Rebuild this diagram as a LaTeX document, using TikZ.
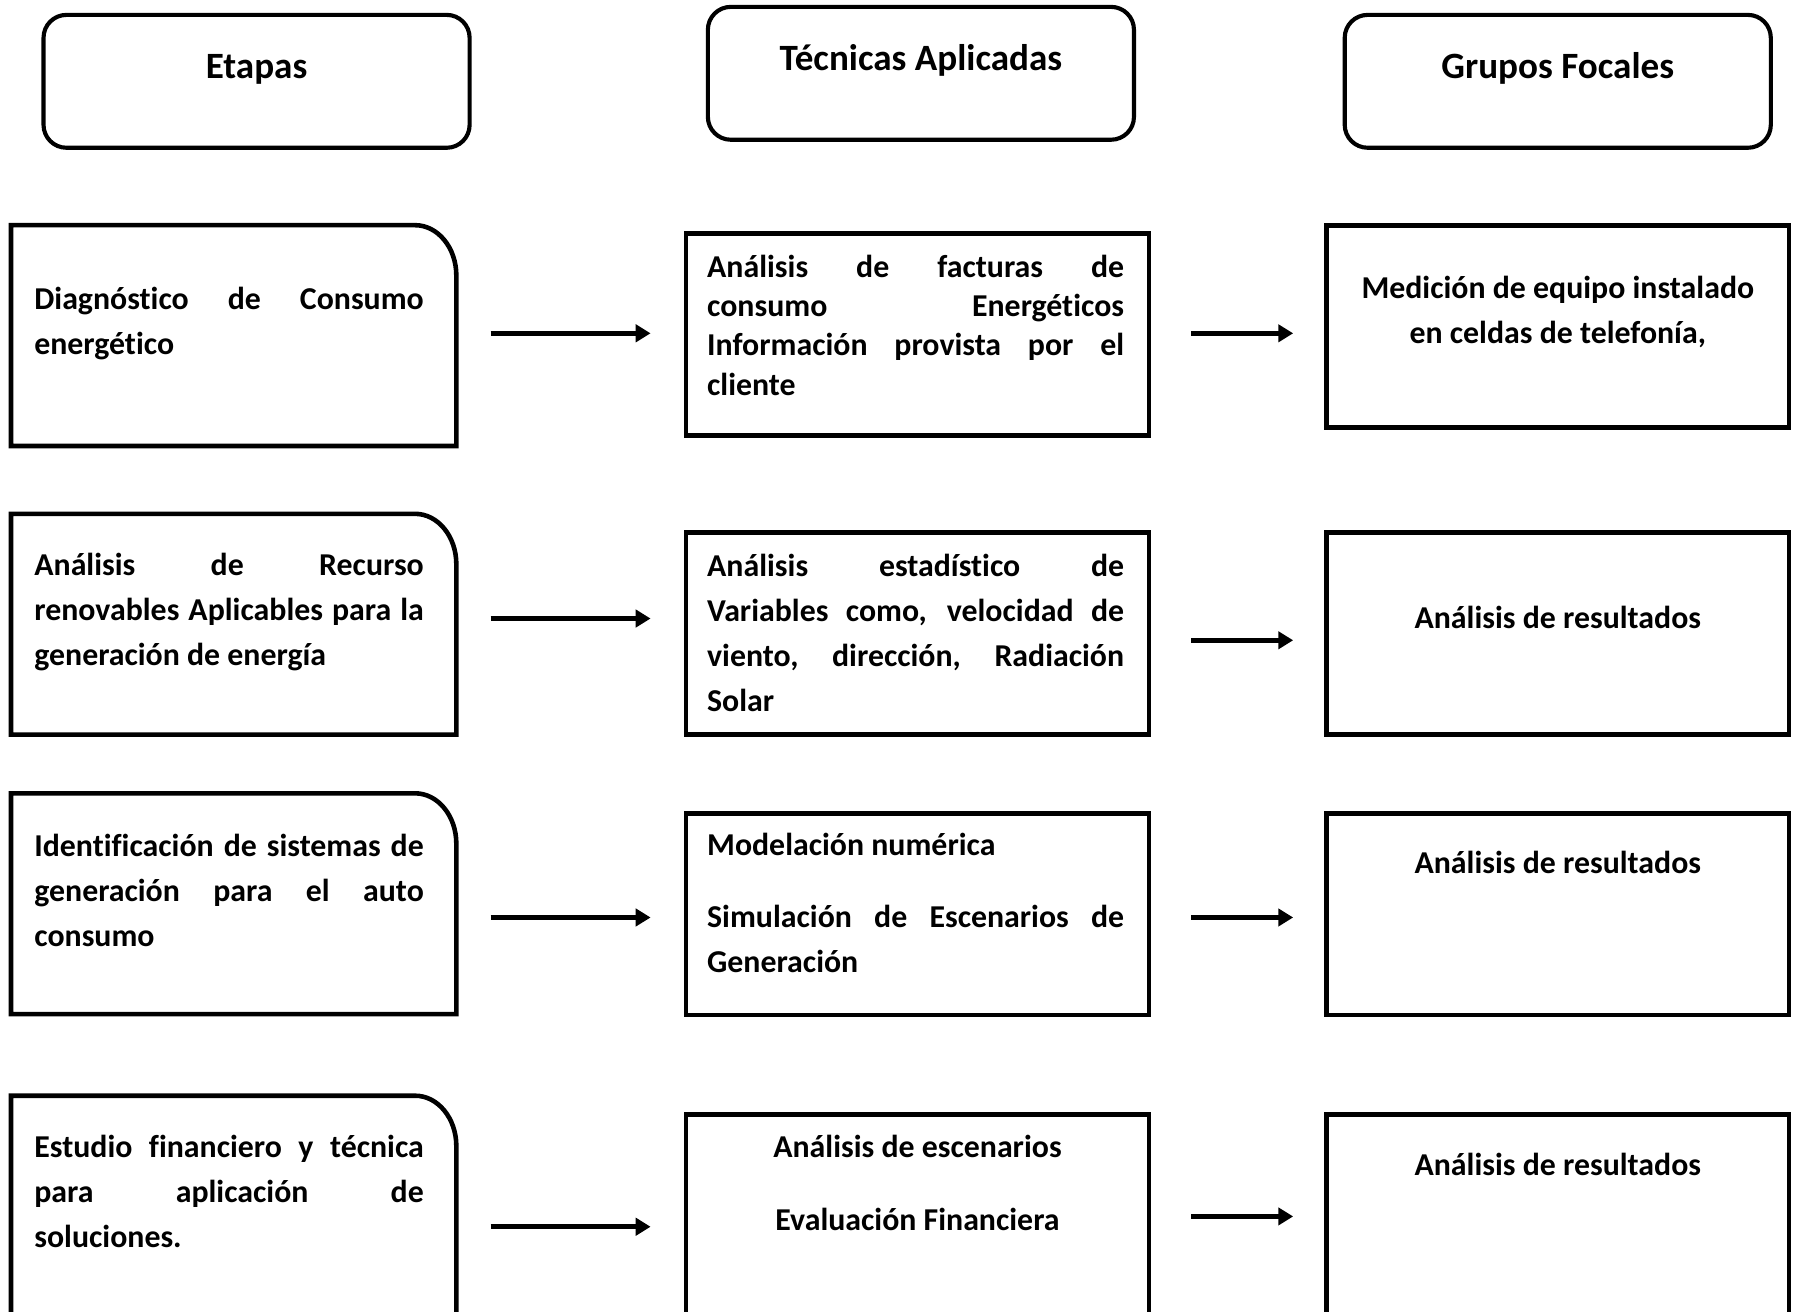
\documentclass[tikz,border=0pt]{standalone}
\usepackage{fontspec}
\setmainfont{Carlito}[Ligatures=NoCommon]
\usetikzlibrary{positioning,arrows.meta}
\tolerance=10000
\hbadness=10000
\hyphenpenalty=10000
\exhyphenpenalty=10000

\begin{document}
\begin{tikzpicture}[x=0.5pt,y=-0.5pt,
    titulo/.style = {draw, line width=1.8pt, rounded corners=10pt, minimum width=186pt, minimum height=58pt, inner sep=0pt},
    etapa/.style = {minimum width=194pt, minimum height=96pt, inner sep=0pt},
    caja/.style = {draw, line width=2pt, minimum width=202pt, minimum height=88pt, inner sep=0pt},
    cabecera/.style = {font=\bfseries\fontsize{16.2pt}{20pt}\selectfont, inner sep=0pt, text height=14pt},
    texto/.style = {font=\bfseries\fontsize{13.9pt}{19.7pt}\selectfont, inner sep=0pt, text height=12.25pt},
    flecha/.style = {line width=2.3pt, -{Triangle[length=6.5pt,width=7.5pt]}}]
    \useasboundingbox (0,0) rectangle (1568,1145);
    \clip (0,0) rectangle (1568,1145);

    % cabeceras
    \node[titulo] (h1) at (224,71) {};
    \node[titulo] (h2) at (804,64) {};
    \node[titulo] (h3) at (1360,71) {};
    \node[cabecera] (h1t) [below=14.5pt of h1.north] {Etapas};
    \node[cabecera] (h2t) [below=14.5pt of h2.north] {Técnicas Aplicadas};
    \node[cabecera] (h3t) [below=14.5pt of h3.north] {Grupos Focales};

    % etapas
    \node[etapa] (e1) at (204,293) {};
    \node[etapa] (e2) at (204,545) {};
    \node[etapa] (e3) at (204,789) {};
    \node[etapa] (e4) at (204,1053) {};
    \foreach \n in {e1,e2,e3,e4}
        \draw[line width=2pt] (\n.south west) -- (\n.north west) -- ([xshift=-18pt]\n.north east)
            arc[start angle=90, end angle=0, x radius=18pt, y radius=22pt] -- (\n.south east) -- cycle;

    \node[texto, align=justify, text width=170pt] (e1t) [below right=24.5pt and 10pt of e1.north west]
        {Diagnóstico de Consumo\linebreak energético};
    \node[texto, align=justify, text width=170pt] (e2t) [below right=14.5pt and 10pt of e2.north west]
        {Análisis de Recurso\linebreak renovables Aplicables para la\linebreak generación de energía};
    \node[texto, align=justify, text width=170pt] (e3t) [below right=15pt and 10pt of e3.north west]
        {Identificación de sistemas de\linebreak generación para el auto\linebreak consumo};
    \node[texto, align=justify, text width=170pt] (e4t) [below right=14.5pt and 10pt of e4.north west]
        {Estudio financiero y técnica\linebreak para aplicación de\linebreak soluciones.};

    % tecnicas
    \node[caja] (t1) at (801,292) {};
    \node[caja] (t2) at (801,553) {};
    \node[caja] (t3) at (801,798) {};
    \node[caja] (t4) at (801,1061) {};

    \node[texto, font=\bfseries\fontsize{13.9pt}{17.2pt}\selectfont, align=justify, text width=182pt] (t1t)
        [below right=7.5pt and 10pt of t1.north west]
        {Análisis de facturas de\linebreak consumo Energéticos\linebreak Información provista por el\linebreak cliente};
    \node[texto, align=justify, text width=182pt] (t2t) [below right=7.5pt and 10pt of t2.north west]
        {Análisis estadístico de\linebreak Variables como, velocidad de\linebreak viento, dirección, Radiación\linebreak Solar};
    \node[texto, align=justify, text width=182pt] (t3t) [below right=7pt and 10pt of t3.north west]
        {Modelación numérica\\[11.8pt] Simulación de Escenarios de\linebreak Generación};
    \node[texto, align=flush center, text width=182pt] (t4t) [below=7.5pt of t4.north]
        {Análisis de escenarios\\[11.8pt] Evaluación Financiera};

    % grupos focales
    \node[caja] (g1) at (1360,285) {};
    \node[caja] (g2) at (1360,553) {};
    \node[caja] (g3) at (1360,798) {};
    \node[caja] (g4) at (1360,1061) {};

    \node[texto, align=flush center, text width=190pt] (g1t) [below=20.5pt of g1.north]
        {Medición de equipo instalado\\ en celdas de telefonía,};
    \node[texto] (g2t) [below=30.5pt of g2.north] {Análisis de resultados};
    \node[texto] (g3t) [below=15pt of g3.north] {Análisis de resultados};
    \node[texto] (g4t) [below=15pt of g4.north] {Análisis de resultados};

    % flechas
    \draw[flecha, shorten <=15pt, shorten >=14.5pt] (e1.east |- 0,291) -- (t1.west |- 0,291);
    \draw[flecha, shorten <=15pt, shorten >=14.5pt] (e2.east |- 0,540) -- (t2.west |- 0,540);
    \draw[flecha, shorten <=15pt, shorten >=14.5pt] (e3.east |- 0,801) -- (t3.west |- 0,801);
    \draw[flecha, shorten <=15pt, shorten >=14.5pt] (e4.east |- 0,1071) -- (t4.west |- 0,1071);
    \draw[flecha, shorten <=17.5pt, shorten >=13.5pt] (t1.east |- 0,291) -- (g1.west |- 0,291);
    \draw[flecha, shorten <=17.5pt, shorten >=13.5pt] (t2.east |- 0,559) -- (g2.west |- 0,559);
    \draw[flecha, shorten <=17.5pt, shorten >=13.5pt] (t3.east |- 0,801) -- (g3.west |- 0,801);
    \draw[flecha, shorten <=17.5pt, shorten >=13.5pt] (t4.east |- 0,1062) -- (g4.west |- 0,1062);
\end{tikzpicture}
\end{document}
